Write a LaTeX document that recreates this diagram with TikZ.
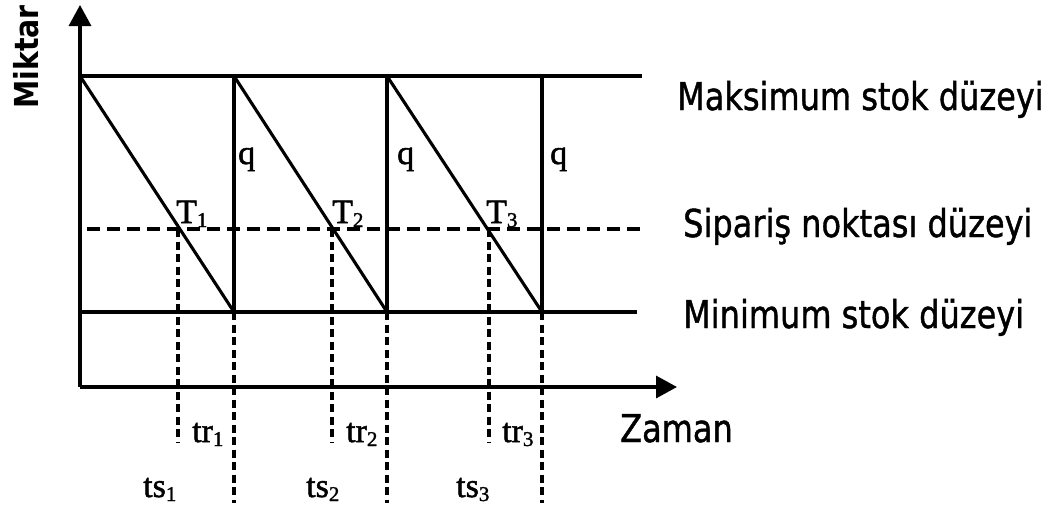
\documentclass[tikz,border=0pt]{standalone}
\usepackage{fontspec}
\setmainfont[FakeBold=1.5]{Liberation Serif}
\newfontfamily\vfont[FakeBold=1.2]{DejaVu Sans}
\newfontfamily\vbold{DejaVu Sans Bold}
\usetikzlibrary{arrows.meta}
\newcommand\sbs[1]{\raisebox{-4pt}{\fontsize{21}{21}\selectfont #1}}
\tikzset{
  solidline/.style={line width=3.1pt},
  hdash/.style={line width=3.2pt, dash pattern=on 13pt off 7pt},
  vdash/.style={line width=3.6pt, dash pattern=on 8pt off 4.5pt},
  axisline/.style={line width=3.3pt, -{Triangle[length=21pt,width=22pt]}},
  serif/.style={font=\fontsize{34}{34}\selectfont, anchor=base west, inner sep=0pt},
  sanslab/.style={font=\vfont\fontsize{32}{32}\selectfont, anchor=base west, inner sep=0pt, yscale=1.2}
}
\begin{document}
\begin{tikzpicture}[x=1pt,y=-1pt]
\useasboundingbox (0,0) rectangle (1048,506);
% coordinates
\coordinate (O) at (80,387);
\coordinate (Ytop) at (80,5);
\coordinate (Xend) at (677,387);
\coordinate (MaxL) at (80,76);  \coordinate (MaxR) at (642,76);
\coordinate (OrdL) at (87,229); \coordinate (OrdR) at (645,229);
\coordinate (MinL) at (80,312); \coordinate (MinR) at (637,312);
\coordinate (A0) at (80,76);
\coordinate (A1) at (234,76);  \coordinate (B1) at (234,312);
\coordinate (A2) at (387,76);  \coordinate (B2) at (387,312);
\coordinate (A3) at (542,76);  \coordinate (B3) at (542,312);
\coordinate (T1) at (178,229); \coordinate (T2) at (332,229); \coordinate (T3) at (489,229);
\coordinate (R1) at (178,443); \coordinate (R2) at (332,443); \coordinate (R3) at (489,443);
\coordinate (S1) at (234,503); \coordinate (S2) at (387,503); \coordinate (S3) at (542,503);
% axes
\draw[axisline] (O) -- (Ytop);
\draw[axisline] (O) -- (Xend);
% level lines
\draw[solidline] (MaxL) -- (MaxR);
\draw[solidline] (MinL) -- (MinR);
\draw[hdash] (OrdL) -- (OrdR);
% saw-tooth
\draw[solidline] (A0) -- (B1);
\draw[solidline] (A1) -- (B2);
\draw[solidline] (A2) -- (B3);
\draw[solidline] (A1) -- (B1);
\draw[solidline] (A2) -- (B2);
\draw[solidline] (A3) -- (B3);
% dashed verticals
\draw[vdash] (T1) -- (R1);
\draw[vdash] (T2) -- (R2);
\draw[vdash] (T3) -- (R3);
\draw[vdash] (B1) -- (S1);
\draw[vdash] (B2) -- (S2);
\draw[vdash] (B3) -- (S3);
% serif labels
\node[serif] (q1) at (238,164) {q};
\node[serif] (q2) at (397,164) {q};
\node[serif] (q3) at (550,164) {q};
\node[serif] (lT1) at (176,223) {T\sbs{1}};
\node[serif] (lT2) at (332,223) {T\sbs{2}};
\node[serif] (lT3) at (486,223) {T\sbs{3}};
\node[serif] (tr1) at (192,442) {tr\sbs{1}};
\node[serif] (tr2) at (346,442) {tr\sbs{2}};
\node[serif] (tr3) at (502,442) {tr\sbs{3}};
\node[serif] (ts1) at (143,497) {ts\sbs{1}};
\node[serif] (ts2) at (306,497) {ts\sbs{2}};
\node[serif] (ts3) at (456,497) {ts\sbs{3}};
% sans labels
\node[sanslab] (lmax) at (677,110) {Maksimum stok düzeyi};
\node[sanslab] (lord) at (683,237) {Sipariş noktası düzeyi};
\node[sanslab] (lmin) at (683,328) {Minimum stok düzeyi};
\node[sanslab] (lzam) at (620,442) {Zaman};
\node[font=\vbold\fontsize{33}{33}\selectfont, rotate=90, anchor=base, inner sep=0pt, xscale=0.86] (lmik) at (38,57) {Miktar};
\end{tikzpicture}
\end{document}
